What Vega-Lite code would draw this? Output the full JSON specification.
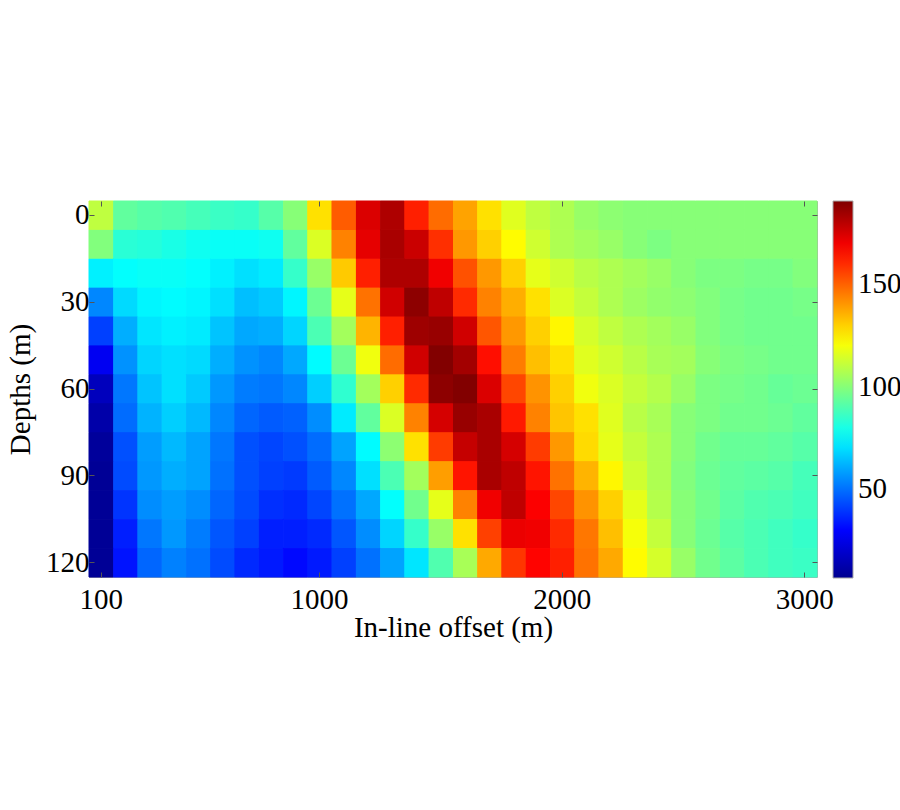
{"$schema":"https://vega.github.io/schema/vega-lite/v6.json","width":728,"height":376,"autosize":"none","padding":{"left":89,"top":201,"right":83,"bottom":233},"background":"white",
"config":{"view":{"stroke":"#a8a8a8","strokeWidth":1},"font":"Liberation Serif","axis":{"grid":false,"domain":false,"labelFont":"Liberation Serif","titleFont":"Liberation Serif","labelFontSize":29,"titleFontSize":29,"labelColor":"#000","titleColor":"#000","titleFontWeight":"normal","tickColor":"#555","tickSize":-5,"tickWidth":1},"legend":{"labelFont":"Liberation Serif","labelFontSize":29,"labelColor":"#000"}},
"data":{"values":[
{"x":100,"y":0,"v":110},{"x":200,"y":0,"v":93},{"x":300,"y":0,"v":91},{"x":400,"y":0,"v":90},{"x":500,"y":0,"v":88},{"x":600,"y":0,"v":86},{"x":700,"y":0,"v":85},{"x":800,"y":0,"v":91},{"x":900,"y":0,"v":100},{"x":1000,"y":0,"v":127},{"x":1100,"y":0,"v":151},{"x":1200,"y":0,"v":174},{"x":1300,"y":0,"v":182},{"x":1400,"y":0,"v":162},{"x":1500,"y":0,"v":148},{"x":1600,"y":0,"v":138},{"x":1700,"y":0,"v":127},{"x":1800,"y":0,"v":116},{"x":1900,"y":0,"v":110},{"x":2000,"y":0,"v":107},{"x":2100,"y":0,"v":103},{"x":2200,"y":0,"v":101},{"x":2300,"y":0,"v":100},{"x":2400,"y":0,"v":100},{"x":2500,"y":0,"v":100},{"x":2600,"y":0,"v":100},{"x":2700,"y":0,"v":100},{"x":2800,"y":0,"v":100},{"x":2900,"y":0,"v":100},{"x":3000,"y":0,"v":100},
{"x":100,"y":10,"v":99},{"x":200,"y":10,"v":83},{"x":300,"y":10,"v":82},{"x":400,"y":10,"v":80},{"x":500,"y":10,"v":78},{"x":600,"y":10,"v":77},{"x":700,"y":10,"v":77},{"x":800,"y":10,"v":78},{"x":900,"y":10,"v":93},{"x":1000,"y":10,"v":115},{"x":1100,"y":10,"v":144},{"x":1200,"y":10,"v":172},{"x":1300,"y":10,"v":183},{"x":1400,"y":10,"v":177},{"x":1500,"y":10,"v":159},{"x":1600,"y":10,"v":140},{"x":1700,"y":10,"v":130},{"x":1800,"y":10,"v":122},{"x":1900,"y":10,"v":113},{"x":2000,"y":10,"v":107},{"x":2100,"y":10,"v":105},{"x":2200,"y":10,"v":103},{"x":2300,"y":10,"v":100},{"x":2400,"y":10,"v":98},{"x":2500,"y":10,"v":100},{"x":2600,"y":10,"v":100},{"x":2700,"y":10,"v":100},{"x":2800,"y":10,"v":100},{"x":2900,"y":10,"v":100},{"x":3000,"y":10,"v":100},
{"x":100,"y":20,"v":73},{"x":200,"y":20,"v":76},{"x":300,"y":20,"v":77},{"x":400,"y":20,"v":77},{"x":500,"y":20,"v":76},{"x":600,"y":20,"v":73},{"x":700,"y":20,"v":70},{"x":800,"y":20,"v":72},{"x":900,"y":20,"v":85},{"x":1000,"y":20,"v":103},{"x":1100,"y":20,"v":131},{"x":1200,"y":20,"v":162},{"x":1300,"y":20,"v":182},{"x":1400,"y":20,"v":182},{"x":1500,"y":20,"v":170},{"x":1600,"y":20,"v":153},{"x":1700,"y":20,"v":140},{"x":1800,"y":20,"v":130},{"x":1900,"y":20,"v":117},{"x":2000,"y":20,"v":113},{"x":2100,"y":20,"v":109},{"x":2200,"y":20,"v":107},{"x":2300,"y":20,"v":105},{"x":2400,"y":20,"v":103},{"x":2500,"y":20,"v":100},{"x":2600,"y":20,"v":98},{"x":2700,"y":20,"v":98},{"x":2800,"y":20,"v":97},{"x":2900,"y":20,"v":97},{"x":3000,"y":20,"v":99},
{"x":100,"y":30,"v":54},{"x":200,"y":30,"v":69},{"x":300,"y":30,"v":74},{"x":400,"y":30,"v":75},{"x":500,"y":30,"v":74},{"x":600,"y":30,"v":70},{"x":700,"y":30,"v":64},{"x":800,"y":30,"v":66},{"x":900,"y":30,"v":74},{"x":1000,"y":30,"v":95},{"x":1100,"y":30,"v":117},{"x":1200,"y":30,"v":147},{"x":1300,"y":30,"v":176},{"x":1400,"y":30,"v":188},{"x":1500,"y":30,"v":179},{"x":1600,"y":30,"v":160},{"x":1700,"y":30,"v":144},{"x":1800,"y":30,"v":136},{"x":1900,"y":30,"v":127},{"x":2000,"y":30,"v":115},{"x":2100,"y":30,"v":111},{"x":2200,"y":30,"v":107},{"x":2300,"y":30,"v":104},{"x":2400,"y":30,"v":102},{"x":2500,"y":30,"v":101},{"x":2600,"y":30,"v":99},{"x":2700,"y":30,"v":97},{"x":2800,"y":30,"v":96},{"x":2900,"y":30,"v":96},{"x":3000,"y":30,"v":97},
{"x":100,"y":40,"v":41},{"x":200,"y":40,"v":61},{"x":300,"y":40,"v":71},{"x":400,"y":40,"v":73},{"x":500,"y":40,"v":72},{"x":600,"y":40,"v":65},{"x":700,"y":40,"v":60},{"x":800,"y":40,"v":61},{"x":900,"y":40,"v":68},{"x":1000,"y":40,"v":89},{"x":1100,"y":40,"v":105},{"x":1200,"y":40,"v":135},{"x":1300,"y":40,"v":162},{"x":1400,"y":40,"v":185},{"x":1500,"y":40,"v":186},{"x":1600,"y":40,"v":176},{"x":1700,"y":40,"v":152},{"x":1800,"y":40,"v":140},{"x":1900,"y":40,"v":130},{"x":2000,"y":40,"v":123},{"x":2100,"y":40,"v":114},{"x":2200,"y":40,"v":110},{"x":2300,"y":40,"v":107},{"x":2400,"y":40,"v":105},{"x":2500,"y":40,"v":103},{"x":2600,"y":40,"v":99},{"x":2700,"y":40,"v":97},{"x":2800,"y":40,"v":96},{"x":2900,"y":40,"v":96},{"x":3000,"y":40,"v":96},
{"x":100,"y":50,"v":27},{"x":200,"y":50,"v":56},{"x":300,"y":50,"v":68},{"x":400,"y":50,"v":70},{"x":500,"y":50,"v":69},{"x":600,"y":50,"v":61},{"x":700,"y":50,"v":56},{"x":800,"y":50,"v":54},{"x":900,"y":50,"v":60},{"x":1000,"y":50,"v":75},{"x":1100,"y":50,"v":95},{"x":1200,"y":50,"v":119},{"x":1300,"y":50,"v":148},{"x":1400,"y":50,"v":176},{"x":1500,"y":50,"v":190},{"x":1600,"y":50,"v":184},{"x":1700,"y":50,"v":165},{"x":1800,"y":50,"v":145},{"x":1900,"y":50,"v":133},{"x":2000,"y":50,"v":127},{"x":2100,"y":50,"v":116},{"x":2200,"y":50,"v":113},{"x":2300,"y":50,"v":109},{"x":2400,"y":50,"v":106},{"x":2500,"y":50,"v":105},{"x":2600,"y":50,"v":100},{"x":2700,"y":50,"v":98},{"x":2800,"y":50,"v":97},{"x":2900,"y":50,"v":96},{"x":3000,"y":50,"v":96},
{"x":100,"y":60,"v":16},{"x":200,"y":60,"v":51},{"x":300,"y":60,"v":65},{"x":400,"y":60,"v":70},{"x":500,"y":60,"v":66},{"x":600,"y":60,"v":57},{"x":700,"y":60,"v":52},{"x":800,"y":60,"v":51},{"x":900,"y":60,"v":54},{"x":1000,"y":60,"v":67},{"x":1100,"y":60,"v":84},{"x":1200,"y":60,"v":105},{"x":1300,"y":60,"v":130},{"x":1400,"y":60,"v":160},{"x":1500,"y":60,"v":188},{"x":1600,"y":60,"v":190},{"x":1700,"y":60,"v":174},{"x":1800,"y":60,"v":155},{"x":1900,"y":60,"v":141},{"x":2000,"y":60,"v":130},{"x":2100,"y":60,"v":119},{"x":2200,"y":60,"v":115},{"x":2300,"y":60,"v":111},{"x":2400,"y":60,"v":108},{"x":2500,"y":60,"v":103},{"x":2600,"y":60,"v":98},{"x":2700,"y":60,"v":97},{"x":2800,"y":60,"v":96},{"x":2900,"y":60,"v":94},{"x":3000,"y":60,"v":95},
{"x":100,"y":70,"v":12},{"x":200,"y":70,"v":49},{"x":300,"y":70,"v":62},{"x":400,"y":70,"v":67},{"x":500,"y":70,"v":63},{"x":600,"y":70,"v":54},{"x":700,"y":70,"v":48},{"x":800,"y":70,"v":46},{"x":900,"y":70,"v":47},{"x":1000,"y":70,"v":55},{"x":1100,"y":70,"v":72},{"x":1200,"y":70,"v":93},{"x":1300,"y":70,"v":115},{"x":1400,"y":70,"v":144},{"x":1500,"y":70,"v":175},{"x":1600,"y":70,"v":186},{"x":1700,"y":70,"v":183},{"x":1800,"y":70,"v":163},{"x":1900,"y":70,"v":144},{"x":2000,"y":70,"v":132},{"x":2100,"y":70,"v":127},{"x":2200,"y":70,"v":116},{"x":2300,"y":70,"v":109},{"x":2400,"y":70,"v":106},{"x":2500,"y":70,"v":100},{"x":2600,"y":70,"v":98},{"x":2700,"y":70,"v":96},{"x":2800,"y":70,"v":96},{"x":2900,"y":70,"v":95},{"x":3000,"y":70,"v":93},
{"x":100,"y":80,"v":9},{"x":200,"y":80,"v":44},{"x":300,"y":80,"v":58},{"x":400,"y":80,"v":63},{"x":500,"y":80,"v":59},{"x":600,"y":80,"v":51},{"x":700,"y":80,"v":44},{"x":800,"y":80,"v":42},{"x":900,"y":80,"v":44},{"x":1000,"y":80,"v":49},{"x":1100,"y":80,"v":59},{"x":1200,"y":80,"v":75},{"x":1300,"y":80,"v":101},{"x":1400,"y":80,"v":127},{"x":1500,"y":80,"v":157},{"x":1600,"y":80,"v":178},{"x":1700,"y":80,"v":183},{"x":1800,"y":80,"v":175},{"x":1900,"y":80,"v":157},{"x":2000,"y":80,"v":140},{"x":2100,"y":80,"v":128},{"x":2200,"y":80,"v":117},{"x":2300,"y":80,"v":111},{"x":2400,"y":80,"v":107},{"x":2500,"y":80,"v":100},{"x":2600,"y":80,"v":96},{"x":2700,"y":80,"v":94},{"x":2800,"y":80,"v":94},{"x":2900,"y":80,"v":93},{"x":3000,"y":80,"v":91},
{"x":100,"y":90,"v":8},{"x":200,"y":90,"v":43},{"x":300,"y":90,"v":57},{"x":400,"y":90,"v":61},{"x":500,"y":90,"v":59},{"x":600,"y":90,"v":50},{"x":700,"y":90,"v":44},{"x":800,"y":90,"v":41},{"x":900,"y":90,"v":40},{"x":1000,"y":90,"v":46},{"x":1100,"y":90,"v":54},{"x":1200,"y":90,"v":70},{"x":1300,"y":90,"v":89},{"x":1400,"y":90,"v":105},{"x":1500,"y":90,"v":139},{"x":1600,"y":90,"v":164},{"x":1700,"y":90,"v":183},{"x":1800,"y":90,"v":179},{"x":1900,"y":90,"v":164},{"x":2000,"y":90,"v":147},{"x":2100,"y":90,"v":135},{"x":2200,"y":90,"v":123},{"x":2300,"y":90,"v":113},{"x":2400,"y":90,"v":107},{"x":2500,"y":90,"v":99},{"x":2600,"y":90,"v":95},{"x":2700,"y":90,"v":93},{"x":2800,"y":90,"v":92},{"x":2900,"y":90,"v":91},{"x":3000,"y":90,"v":88},
{"x":100,"y":100,"v":8},{"x":200,"y":100,"v":39},{"x":300,"y":100,"v":55},{"x":400,"y":100,"v":58},{"x":500,"y":100,"v":55},{"x":600,"y":100,"v":48},{"x":700,"y":100,"v":43},{"x":800,"y":100,"v":38},{"x":900,"y":100,"v":37},{"x":1000,"y":100,"v":42},{"x":1100,"y":100,"v":50},{"x":1200,"y":100,"v":60},{"x":1300,"y":100,"v":76},{"x":1400,"y":100,"v":96},{"x":1500,"y":100,"v":117},{"x":1600,"y":100,"v":144},{"x":1700,"y":100,"v":170},{"x":1800,"y":100,"v":179},{"x":1900,"y":100,"v":168},{"x":2000,"y":100,"v":155},{"x":2100,"y":100,"v":141},{"x":2200,"y":100,"v":130},{"x":2300,"y":100,"v":117},{"x":2400,"y":100,"v":108},{"x":2500,"y":100,"v":100},{"x":2600,"y":100,"v":96},{"x":2700,"y":100,"v":92},{"x":2800,"y":100,"v":90},{"x":2900,"y":100,"v":89},{"x":3000,"y":100,"v":87},
{"x":100,"y":110,"v":8},{"x":200,"y":110,"v":35},{"x":300,"y":110,"v":51},{"x":400,"y":110,"v":57},{"x":500,"y":110,"v":52},{"x":600,"y":110,"v":45},{"x":700,"y":110,"v":41},{"x":800,"y":110,"v":35},{"x":900,"y":110,"v":35},{"x":1000,"y":110,"v":37},{"x":1100,"y":110,"v":45},{"x":1200,"y":110,"v":55},{"x":1300,"y":110,"v":68},{"x":1400,"y":110,"v":85},{"x":1500,"y":110,"v":103},{"x":1600,"y":110,"v":127},{"x":1700,"y":110,"v":156},{"x":1800,"y":110,"v":171},{"x":1900,"y":110,"v":170},{"x":2000,"y":110,"v":160},{"x":2100,"y":110,"v":146},{"x":2200,"y":110,"v":133},{"x":2300,"y":110,"v":120},{"x":2400,"y":110,"v":111},{"x":2500,"y":110,"v":100},{"x":2600,"y":110,"v":95},{"x":2700,"y":110,"v":91},{"x":2800,"y":110,"v":89},{"x":2900,"y":110,"v":87},{"x":3000,"y":110,"v":85},
{"x":100,"y":120,"v":8},{"x":200,"y":120,"v":33},{"x":300,"y":120,"v":48},{"x":400,"y":120,"v":53},{"x":500,"y":120,"v":50},{"x":600,"y":120,"v":43},{"x":700,"y":120,"v":37},{"x":800,"y":120,"v":34},{"x":900,"y":120,"v":31},{"x":1000,"y":120,"v":34},{"x":1100,"y":120,"v":41},{"x":1200,"y":120,"v":50},{"x":1300,"y":120,"v":59},{"x":1400,"y":120,"v":71},{"x":1500,"y":120,"v":90},{"x":1600,"y":120,"v":106},{"x":1700,"y":120,"v":137},{"x":1800,"y":120,"v":158},{"x":1900,"y":120,"v":167},{"x":2000,"y":120,"v":162},{"x":2100,"y":120,"v":147},{"x":2200,"y":120,"v":137},{"x":2300,"y":120,"v":122},{"x":2400,"y":120,"v":114},{"x":2500,"y":120,"v":103},{"x":2600,"y":120,"v":96},{"x":2700,"y":120,"v":92},{"x":2800,"y":120,"v":89},{"x":2900,"y":120,"v":87},{"x":3000,"y":120,"v":86}
]},
"layer":[
{"mark":{"type":"rect","filled":false,"strokeWidth":1},"encoding":{
"x":{"field":"x","type":"ordinal","scale":{"type":"band","paddingInner":0,"paddingOuter":0},"axis":{"orient":"bottom","values":[100,1000,2000,3000],"title":"In-line offset (m)","labelAngle":0,"labelPadding":13,"titlePadding":-1}},
"y":{"field":"y","type":"ordinal","scale":{"type":"band","paddingInner":0,"paddingOuter":0},"axis":{"orient":"left","values":[0,30,60,90,120],"title":"Depths (m)","labelPadding":5,"titlePadding":10}},
"color":{"field":"v","type":"quantitative","scale":{"domain":[6.6,190.5],"interpolate":"rgb","range":["#00008f","#0000ab","#0000c7","#0000e3","#0000ff","#0020ff","#0040ff","#0060ff","#007fff","#009fff","#00bfff","#00dfff","#00ffff","#20ffdf","#40ffbf","#60ff9f","#7fff7f","#9fff60","#bfff40","#dfff20","#ffff00","#ffdf00","#ffbf00","#ff9f00","#ff7f00","#ff6000","#ff4000","#ff2000","#ff0000","#df0000","#bf0000","#9f0000","#7f0000"]},"legend":null}
}},
{"mark":{"type":"rect"},"encoding":{
"x":{"field":"x","type":"ordinal","scale":{"type":"band","paddingInner":0,"paddingOuter":0},"axis":{"orient":"top","values":[100,1000,2000,3000],"title":null,"labels":false}},
"y":{"field":"y","type":"ordinal","scale":{"type":"band","paddingInner":0,"paddingOuter":0},"axis":{"orient":"right","values":[0,30,60,90,120],"title":null,"labels":false}},
"color":{"field":"v","type":"quantitative","scale":{"domain":[6.6,190.5],"interpolate":"rgb","range":["#00008f","#0000ab","#0000c7","#0000e3","#0000ff","#0020ff","#0040ff","#0060ff","#007fff","#009fff","#00bfff","#00dfff","#00ffff","#20ffdf","#40ffbf","#60ff9f","#7fff7f","#9fff60","#bfff40","#dfff20","#ffff00","#ffdf00","#ffbf00","#ff9f00","#ff7f00","#ff6000","#ff4000","#ff2000","#ff0000","#df0000","#bf0000","#9f0000","#7f0000"]},"legend":{"type":"gradient","title":null,"orient":"none","legendX":744,"legendY":0,"gradientLength":377,"gradientThickness":20,"values":[50,100,150],"labelOffset":5,"gradientStrokeColor":"#a8a8a8","gradientStrokeWidth":1}}
}}
],
"resolve":{"axis":{"x":"independent","y":"independent"},"legend":{"color":"independent"},"scale":{"color":"independent"}}}
